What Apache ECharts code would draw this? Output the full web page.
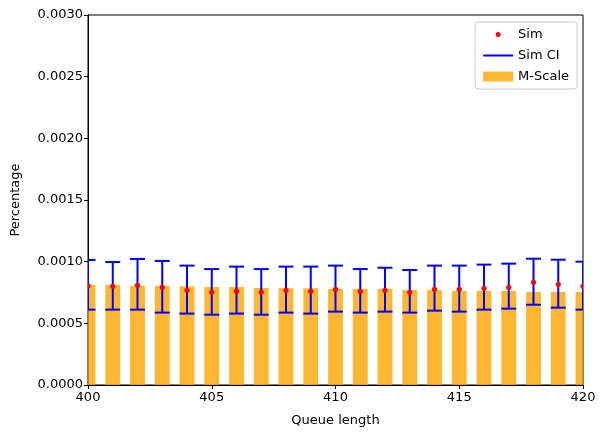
<!DOCTYPE html>
<html><head><meta charset="utf-8">
<script src="https://cdn.jsdelivr.net/npm/echarts@6/dist/echarts.min.js"></script>
<style>html,body{margin:0;padding:0;background:#fff}#c{width:606px;height:438px}</style>
</head><body><div id="c"></div>
<script>
const queueLengths = [400,401,402,403,404,405,406,407,408,409,410,411,412,413,414,415,416,417,418,419,420];
const mscale = [0.000811,0.000810,0.000805,0.000803,0.000800,0.000795,0.000795,0.000787,0.000784,0.000784,0.000779,0.000779,0.000779,0.000770,0.000770,0.000762,0.000762,0.000762,0.000754,0.000754,0.000754];
const sim = [0.000805,0.000800,0.000808,0.000792,0.000768,0.000752,0.000760,0.000752,0.000768,0.000760,0.000776,0.000760,0.000768,0.000752,0.000776,0.000776,0.000784,0.000792,0.000833,0.000817,0.000800];
const ciLow = [0.000611,0.000611,0.000611,0.000587,0.000579,0.000570,0.000579,0.000570,0.000587,0.000579,0.000595,0.000587,0.000595,0.000587,0.000603,0.000595,0.000611,0.000619,0.000651,0.000627,0.000611];
const ciHigh = [0.001014,0.000997,0.001022,0.001006,0.000968,0.000940,0.000960,0.000940,0.000960,0.000960,0.000968,0.000940,0.000951,0.000932,0.000968,0.000968,0.000976,0.000984,0.001024,0.001016,0.001000];
const barHalfWidth = 0.3;

const font = 'DejaVu Sans';
const chart = echarts.init(document.getElementById('c'), null, {renderer:'canvas'});
chart.setOption({
  animation:false,
  textStyle:{fontFamily:font},
  grid:{left:88,right:23,top:15,bottom:53,show:true,borderColor:'#000',borderWidth:1,backgroundColor:'transparent'},
  xAxis:{type:'value',min:400,max:420,interval:5,
    name:'Queue length',nameLocation:'middle',nameGap:29,nameTextStyle:{color:'#000',fontSize:13,fontFamily:font},
    axisLine:{show:true,lineStyle:{color:'#000',width:1}},
    axisTick:{show:true,length:4,lineStyle:{color:'#000'}},
    axisLabel:{color:'#000',fontSize:13,margin:6,fontFamily:font},
    splitLine:{show:false}},
  yAxis:{type:'value',min:0,max:0.003,interval:0.0005,
    name:'Percentage',nameLocation:'middle',nameGap:66,nameRotate:90,nameTextStyle:{color:'#000',fontSize:13,fontFamily:font},
    axisLine:{show:true,lineStyle:{color:'#000',width:1}},
    axisTick:{show:true,length:4,lineStyle:{color:'#000'}},
    axisLabel:{color:'#000',fontSize:13,margin:5,fontFamily:font,formatter:v=>v.toFixed(4)},
    splitLine:{show:false}},
  legend:{orient:'vertical',right:29,top:22,itemWidth:30,itemHeight:10,itemGap:8,
    padding:[6,8,6,8],borderColor:'#cccccc',borderWidth:1,borderRadius:3,backgroundColor:'#fff',
    textStyle:{color:'#000',fontSize:13,fontFamily:font},
    data:[
      {name:'Sim',icon:'path://M0,0 L0.01,0 L0,0.01 Z M30,10 L29.99,10 L30,9.99 Z M12.5,5 A2.5,2.5 0 1,0 17.5,5 A2.5,2.5 0 1,0 12.5,5 Z',itemStyle:{color:'red'}},
      {name:'Sim CI',icon:'path://M0,0 L30,0 L30,2 L0,2 Z',itemStyle:{color:'blue'}},
      {name:'M-Scale',icon:'rect',itemStyle:{color:'rgba(255,165,0,0.8)'}}
    ]},
  series:[
    {name:'M-Scale',type:'custom',clip:true,z:1,
      itemStyle:{color:'rgba(255,165,0,0.8)'},
      data:queueLengths.map((q,i)=>[q,mscale[i]]),
      renderItem:(params,api)=>{
        const x=api.value(0), v=api.value(1);
        const a=api.coord([x-barHalfWidth,v]), b=api.coord([x+barHalfWidth,0]);
        return {type:'rect',shape:{x:a[0],y:a[1],width:b[0]-a[0],height:b[1]-a[1]},style:{fill:'rgba(255,165,0,0.8)'}};
      }},
    {name:'Sim CI',type:'custom',clip:true,z:2,
      itemStyle:{color:'blue'},
      data:queueLengths.map((q,i)=>[q,ciLow[i],ciHigh[i]]),
      renderItem:(params,api)=>{
        const x=api.value(0);
        const lo=api.coord([x,api.value(1)]), hi=api.coord([x,api.value(2)]);
        const hw=7.5, st={stroke:'blue',lineWidth:2};
        return {type:'group',children:[
          {type:'line',shape:{x1:lo[0],y1:lo[1],x2:hi[0],y2:hi[1]},style:st},
          {type:'line',shape:{x1:hi[0]-hw,y1:hi[1],x2:hi[0]+hw,y2:hi[1]},style:st},
          {type:'line',shape:{x1:lo[0]-hw,y1:lo[1],x2:lo[0]+hw,y2:lo[1]},style:st}
        ]};
      }},
    {name:'Sim',type:'custom',clip:true,z:3,
      itemStyle:{color:'red'},
      data:queueLengths.map((q,i)=>[q,sim[i]]),
      renderItem:(params,api)=>{
        const p=api.coord([api.value(0),api.value(1)]);
        return {type:'circle',shape:{cx:p[0],cy:p[1],r:2.6},style:{fill:'red'}};
      }}
  ]
});
</script></body></html>
